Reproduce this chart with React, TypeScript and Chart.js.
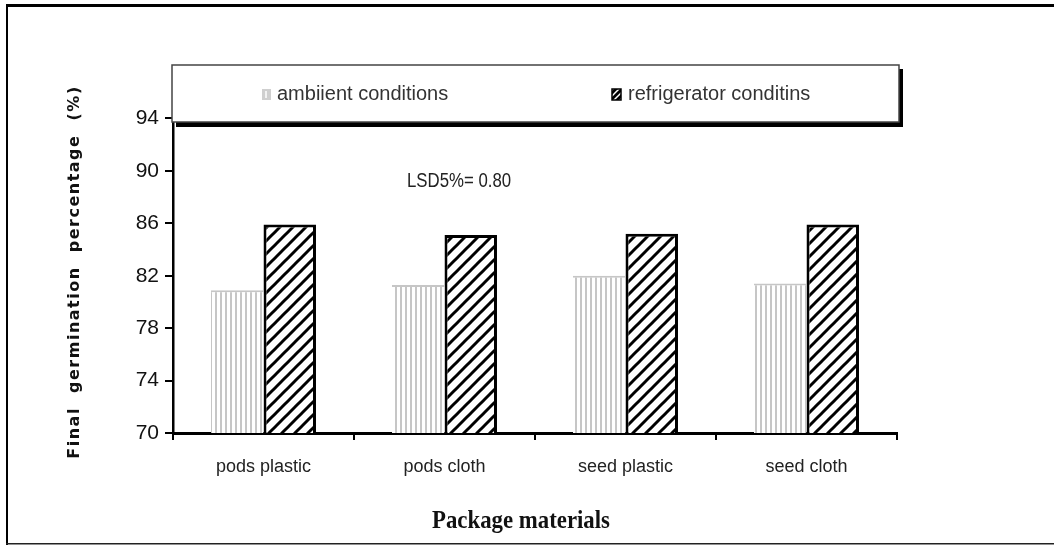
import React, { useEffect, useRef } from 'react';
import { Chart, registerables } from 'chart.js';

Chart.register(...registerables);

const categories = ['pods plastic', 'pods cloth', 'seed plastic', 'seed cloth'];
const ambientValues = [80.9, 81.3, 82.0, 81.4];
const refrigeratorValues = [85.9, 85.1, 85.2, 85.9];
const seriesNames = ['ambiient conditions', 'refrigerator conditins'];
const yMin = 70;
const yMax = 98;
const yStep = 4;
const xTitle = 'Package materials';
const yTitle = 'Final  germination  percentage  (%)';
const lsdNote = 'LSD5%= 0.80';

function makeStripe(): CanvasPattern | string {
  const c = document.createElement('canvas');
  c.width = 5;
  c.height = 5;
  const g = c.getContext('2d');
  if (!g) return '#ccc';
  g.fillStyle = '#ffffff';
  g.fillRect(0, 0, 5, 5);
  g.fillStyle = '#c6c6c6';
  g.fillRect(0, 0, 2, 5);
  return g.createPattern(c, 'repeat') || '#ccc';
}

function makeHatch(size: number, lw: number, fg: string, bg: string): CanvasPattern | string {
  const c = document.createElement('canvas');
  c.width = size;
  c.height = size;
  const g = c.getContext('2d');
  if (!g) return fg;
  g.fillStyle = bg;
  g.fillRect(0, 0, size, size);
  g.strokeStyle = fg;
  g.lineWidth = lw;
  g.lineCap = 'square';
  for (let k = -1; k <= 1; k++) {
    g.beginPath();
    g.moveTo(k * size, size);
    g.lineTo(k * size + size, 0);
    g.stroke();
  }
  return g.createPattern(c, 'repeat') || fg;
}

export default function App() {
  const ref = useRef<HTMLCanvasElement | null>(null);

  useEffect(() => {
    if (!ref.current) return;
    const stripe = makeStripe();
    const hatch = makeHatch(13, 3, '#000', '#fff');
    const swatchHatch = makeHatch(6, 1.5, '#fff', '#000');

    const decor = {
      id: 'decor',
      afterDraw(chart: any) {
        const ctx = chart.ctx as CanvasRenderingContext2D;
        const area = chart.chartArea;
        ctx.save();
        // outer frame
        ctx.fillStyle = '#000';
        ctx.fillRect(6, 4, 1048, 3);
        ctx.fillRect(6, 4, 2, 541);
        ctx.fillStyle = '#222';
        ctx.fillRect(6, 543, 1048, 1.5);

        // legend box with shadow
        const bx = area.left - 1;
        const by = 65;
        const bw = area.right + 2 - bx;
        const bh = 57;
        ctx.fillStyle = '#000';
        ctx.fillRect(bx + 4, by + 4, bw, bh + 1);
        ctx.fillStyle = '#fff';
        ctx.fillRect(bx, by, bw, bh);
        ctx.strokeStyle = '#444';
        ctx.lineWidth = 1.5;
        ctx.strokeRect(bx, by, bw, bh);

        ctx.font = '20px "Liberation Sans", Arial, sans-serif';
        ctx.textBaseline = 'middle';
        ctx.textAlign = 'left';
        const ly = 94;
        // ambient swatch
        ctx.fillStyle = '#cfcfcf';
        ctx.fillRect(262, ly - 5, 9, 11);
        ctx.fillStyle = '#f2f2f2';
        ctx.fillRect(265, ly - 3, 2, 7);
        ctx.fillStyle = '#333';
        ctx.fillText(seriesNames[0], 277, ly);
        // refrigerator swatch
        ctx.fillStyle = swatchHatch as any;
        ctx.fillRect(612, ly - 5, 9, 11);
        ctx.strokeStyle = '#000';
        ctx.lineWidth = 1.5;
        ctx.strokeRect(612, ly - 5, 9, 11);
        ctx.fillStyle = '#333';
        ctx.fillText(seriesNames[1], 628, ly);

        // LSD note (condensed look)
        ctx.save();
        ctx.translate(407, 181);
        ctx.scale(0.84, 1);
        ctx.font = '20px "Liberation Sans", Arial, sans-serif';
        ctx.fillStyle = '#222';
        ctx.fillText(lsdNote, 0, 0);
        ctx.restore();

        // x title
        ctx.save();
        ctx.translate(521, 521);
        ctx.scale(0.95, 1.08);
        ctx.font = 'bold 24px "Liberation Serif", "Times New Roman", serif';
        ctx.textAlign = 'center';
        ctx.fillStyle = '#111';
        ctx.fillText(xTitle, 0, 0);
        ctx.restore();

        // y title
        ctx.translate(75, 273);
        ctx.rotate(-Math.PI / 2);
        ctx.font = 'bold 16px "DejaVu Sans", "Liberation Sans", Arial, sans-serif';
        (ctx as any).letterSpacing = '1.5px';
        ctx.fillStyle = '#111';
        ctx.textAlign = 'center';
        ctx.fillText(yTitle, 1, 0);
        ctx.restore();
      },
    };

    const chart = new Chart(ref.current, {
      type: 'bar',
      data: {
        labels: categories,
        datasets: [
          {
            label: seriesNames[0],
            data: ambientValues,
            backgroundColor: stripe as any,
            borderColor: '#c6c6c6',
            borderWidth: { top: 2, left: 0, right: 0, bottom: 0 } as any,
            borderSkipped: false,
            categoryPercentage: 0.58,
            barPercentage: 1,
          },
          {
            label: seriesNames[1],
            data: refrigeratorValues,
            backgroundColor: hatch as any,
            borderColor: '#000',
            borderWidth: 3,
            borderSkipped: 'bottom',
            categoryPercentage: 0.58,
            barPercentage: 1,
          },
        ],
      },
      options: {
        responsive: false,
        animation: false,
        devicePixelRatio: 1,
        layout: { padding: { top: 66, right: 157, left: 0, bottom: 0 } },
        plugins: {
          legend: { display: false },
          tooltip: { enabled: false },
          title: { display: false },
        },
        scales: {
          x: {
            grid: {
              display: true,
              offset: true,
              drawOnChartArea: false,
              drawTicks: true,
              tickLength: 7,
              color: '#000',
              lineWidth: 2,
            },
            border: { display: true, color: '#000', width: 3 },
            ticks: {
              padding: 16,
              color: '#222',
              font: { family: '"Liberation Sans", Arial, sans-serif', size: 18 },
            },
            afterFit: (s: any) => {
              s.height = 113;
            },
          },
          y: {
            min: yMin,
            max: yMax,
            grid: {
              display: true,
              drawOnChartArea: false,
              drawTicks: true,
              tickLength: 8,
              color: (c: any) => (c.tick && c.tick.value === yMax ? 'rgba(0,0,0,0)' : '#000'),
              lineWidth: 2,
            },
            border: { display: true, color: '#000', width: 2.5 },
            ticks: {
              stepSize: yStep,
              padding: 6,
              color: '#111',
              font: { family: '"Liberation Sans", Arial, sans-serif', size: 21 },
              callback: (v: any) => (Number(v) === yMax ? '' : String(v)),
            },
            afterFit: (s: any) => {
              s.width = 173;
            },
          },
        },
      },
      plugins: [decor],
    });
    return () => chart.destroy();
  }, []);

  return (
    <div style={{ position: 'fixed', left: 0, top: 0, width: 1054, height: 546, background: '#fff' }}>
      <canvas ref={ref} width={1054} height={546} style={{ display: 'block' }} />
    </div>
  );
}
